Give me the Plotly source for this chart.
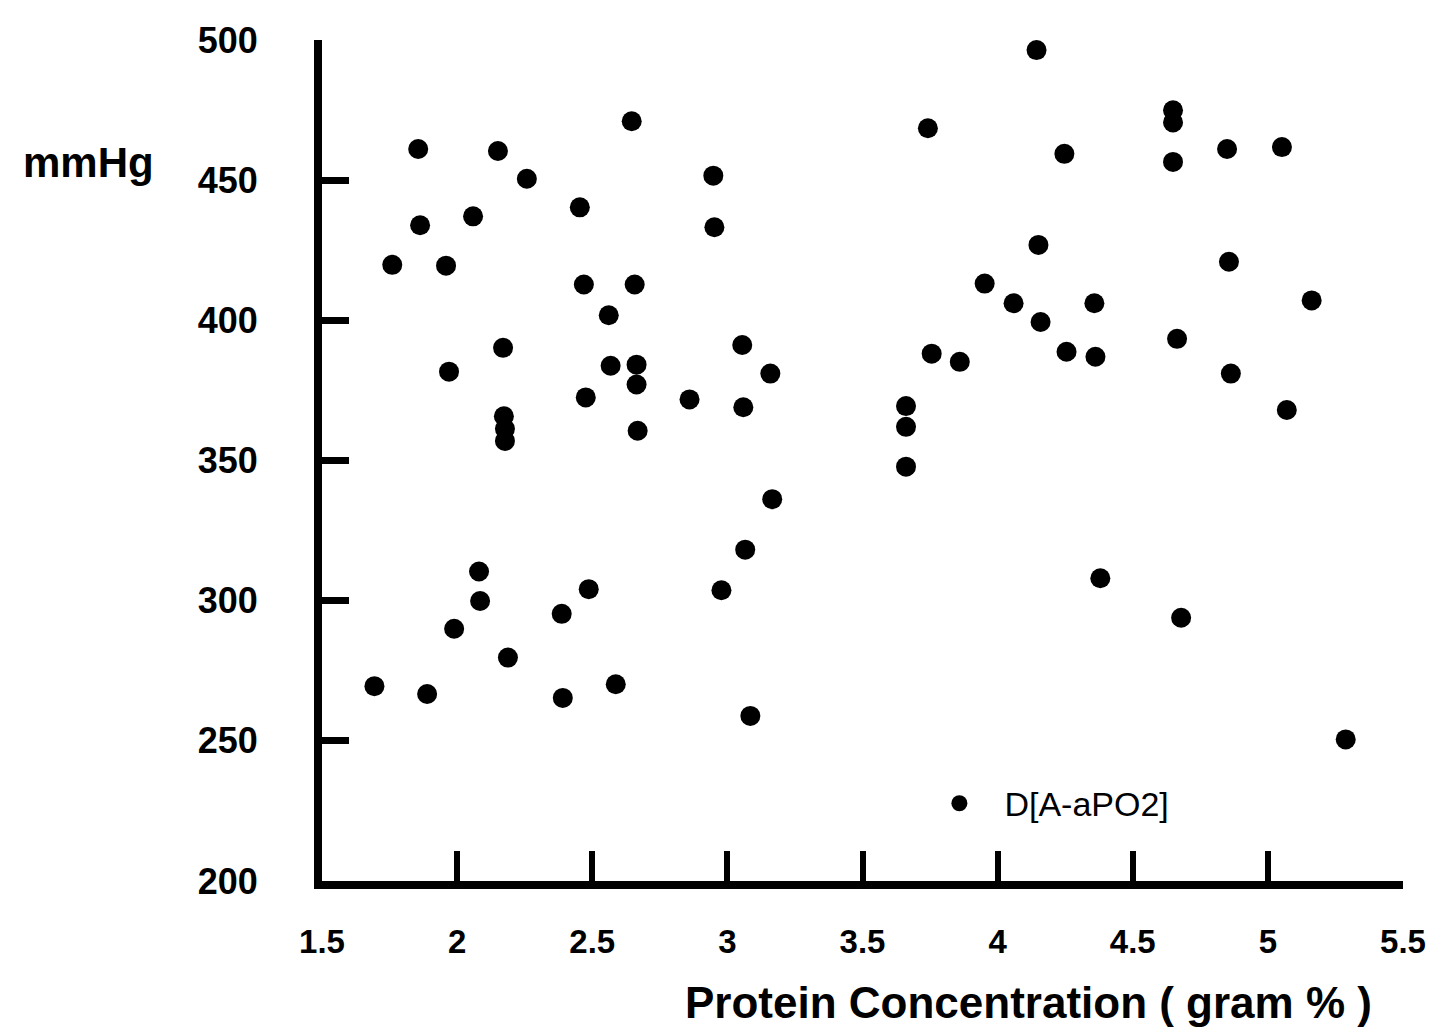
import plotly.graph_objects as go

# Protein concentration (gram %)
protein = [
    1.694, 1.760, 1.856, 1.863, 1.889, 1.959, 1.970, 1.989, 2.059, 2.081,
    2.085, 2.151, 2.170, 2.173, 2.177, 2.177, 2.188, 2.258, 2.387, 2.391,
    2.454, 2.469, 2.476, 2.487, 2.561, 2.568, 2.587, 2.646, 2.657, 2.664,
    2.664, 2.668, 2.860, 2.948, 2.952, 2.978, 3.055, 3.059, 3.066, 3.085,
    3.159, 3.166,
    3.661, 3.661, 3.661, 3.742, 3.756, 3.860, 3.952, 4.059, 4.144, 4.151,
    4.159, 4.247, 4.255, 4.358, 4.362, 4.380, 4.649, 4.649, 4.649, 4.664,
    4.679, 4.849, 4.856, 4.863, 5.052, 5.070, 5.162, 5.288,
]
# D[A-aPO2] (mmHg)
d_aa_po2 = [
    269.5, 419.8, 461.1, 433.9, 266.7, 419.5, 381.7, 290.0, 437.1, 310.4,
    299.9, 460.4, 390.2, 365.8, 361.3, 357.0, 279.7, 450.5, 295.3, 265.3,
    440.3, 412.8, 372.5, 304.1, 401.8, 383.8, 270.2, 471.0, 412.8, 384.2,
    377.1, 360.6, 371.8, 451.6, 433.2, 303.7, 391.2, 369.0, 318.2, 258.9,
    381.0, 336.2,
    369.4, 362.0, 347.8, 468.5, 388.1, 385.2, 413.1, 406.1, 496.4, 426.9,
    399.4, 459.4, 388.8, 406.1, 387.0, 308.0, 474.9, 470.6, 456.5, 393.4,
    293.9, 461.1, 420.9, 381.0, 461.8, 368.0, 407.1, 250.5,
]

x_tickvals = [1.5, 2, 2.5, 3, 3.5, 4, 4.5, 5, 5.5]
x_ticktext = ["1.5", "2", "2.5", "3", "3.5", "4", "4.5", "5", "5.5"]
y_tickvals = [200, 250, 300, 350, 400, 450, 500]
y_ticktext = ["200", "250", "300", "350", "400", "450", "500"]

FONT = "Liberation Sans, Arial, sans-serif"

fig = go.Figure()
fig.add_trace(go.Scatter(
    x=protein, y=d_aa_po2, mode="markers", name="D[A-aPO2]",
    marker=dict(color="black", size=20, line=dict(width=0)),
))

fig.update_layout(
    width=1430, height=1024,
    margin=dict(l=314, r=31, t=27, b=151),
    paper_bgcolor="white", plot_bgcolor="white",
    showlegend=True,
    legend=dict(x=0.548, y=0.092, xanchor="left", yanchor="middle",
                bgcolor="rgba(0,0,0,0)", itemwidth=80,
                font=dict(family=FONT, size=34, color="black")),
    xaxis=dict(range=[1.5, 5.5], tickvals=x_tickvals, ticktext=x_ticktext,
               showgrid=False, zeroline=False,
               showline=True, linecolor="black", linewidth=8,
               ticks="inside", ticklen=30, tickwidth=6, tickcolor="black",
               ticklabelstandoff=24,
               tickfont=dict(family=FONT, size=33, color="black", weight="bold")),
    yaxis=dict(range=[200, 500], tickvals=y_tickvals, ticktext=y_ticktext,
               showgrid=False, zeroline=False,
               showline=True, linecolor="black", linewidth=8,
               ticks="inside", ticklen=27, tickwidth=7, tickcolor="black",
               ticklabelstandoff=49,
               tickfont=dict(family=FONT, size=36, color="black", weight="bold")),
    annotations=[
        dict(text="<b>mmHg</b>", xref="paper", yref="paper",
             x=-0.278, y=0.8546, xanchor="left", yanchor="middle",
             showarrow=False, font=dict(family=FONT, size=42, color="black")),
        dict(text="<b>Protein Concentration ( gram % )</b>", xref="paper", yref="paper",
             x=0.654, y=-0.144, xanchor="center", yanchor="middle",
             showarrow=False, font=dict(family=FONT, size=44, color="black")),
    ],
)

fig.write_html("out.html")
